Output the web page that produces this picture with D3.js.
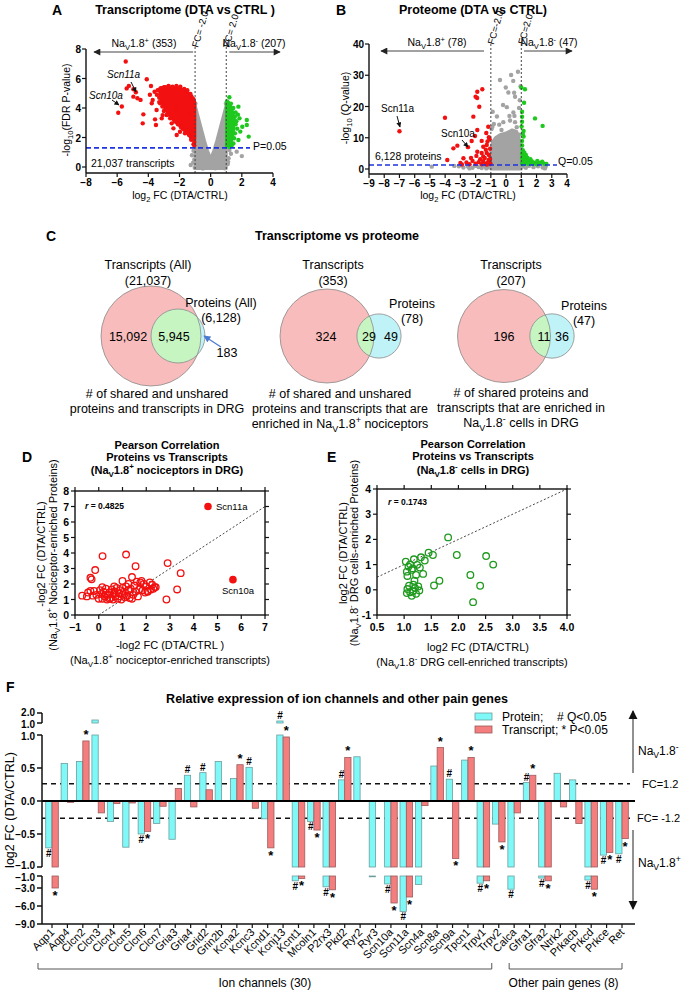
<!DOCTYPE html>
<html><head><meta charset="utf-8">
<script src="https://cdn.jsdelivr.net/npm/d3@7"></script>
<style>body{margin:0;background:#fff}svg{display:block}text{font-family:"Liberation Sans",Arial,sans-serif}</style>
</head><body><svg id="c" width="682" height="992"></svg>
<script>
// ---------------- DATA ----------------
// Panel A (transcriptome volcano): [log2FC, -log10 FDR]
const aGrayCore = [[-1.0,-0.1],[-1.0,4.2],[-0.8,3.4],[-0.6,2.6],[-0.4,1.8],[-0.2,1.1],[0,0.55],[0.2,1.1],[0.4,1.8],[0.6,2.6],[0.8,3.4],[1.0,4.2],[1.0,-0.1]];
const aGray = [[2.0,0.74],[1.67,1.04],[1.3,0.9],[1.15,0.6],[1.2,1.15],[-1.28,0.14],[-1.05,0.5],[-1.1,1.1],[-1.2,0.8],[1.1,0.2],[-1.02,-0.05],[0.9,-0.08],[-0.5,-0.1],[0.3,-0.09],[-0.98,4.3],[0.98,4.3],[-1.12,0.3],[1.12,0.35]];
const aRedCore = [[-1.02,1.9],[-1.02,4.4],[-1.2,4.8],[-1.5,5.1],[-1.9,5.3],[-2.5,5.4],[-3.0,5.45],[-3.3,5.3],[-3.2,4.6],[-2.9,3.9],[-2.5,3.3],[-2.0,2.8],[-1.6,2.4],[-1.3,2.1]];
const aRed = [[-5.45,7.15],[-4.1,5.95],[-5.39,5.33],[-5.25,5.5],[-5.7,4.1],[-5.93,3.68],[-4.96,5.27],[-4.8,5.07],[-4.96,4.77],[-4.7,4.66],[-4.5,4.55],[-4.32,3.57],[-4.36,2.96],[-3.83,5.49],[-3.72,4.54],[-3.57,3.23],[-3.51,2.85],[-3.08,3.52],[-2.18,2.17],[-1.8,2.62],[-1.26,2.01],[-3.78,4.32],[-3.47,3.86],[-3.25,4.32],[-2.93,4.09],[-2.82,3.53],[-3.14,3.3],[-2.5,2.96],[-2.39,2.62],[-1.97,2.39],[-1.65,2.28],[-1.37,2.17],[-1.52,2.5],[-1.86,2.73],[-2.18,3.07],[-1.1,4.6],[-1.3,4.95],[-1.5,5.2],[-1.7,5.3],[-1.95,5.45],[-2.2,5.5],[-2.45,5.45],[-2.7,5.5],[-2.95,5.4],[-3.2,5.35],[-3.4,5.2],[-3.45,4.9],[-3.3,4.7],[-1.05,1.7],[-1.1,1.55],[-1.15,2.0],[-1.25,1.85],[-1.4,2.2],[-1.55,2.35],[-1.7,2.55],[-1.9,2.7],[-2.1,2.9],[-2.3,3.1],[-2.6,3.3],[-2.8,3.55],[-3.0,3.8],[-3.1,4.1],[-3.3,4.4],[-1.05,1.45],[-1.08,2.6],[-1.12,3.3],[-1.07,3.9],[-3.6,5.1],[-3.9,4.9],[-2.7,4.4],[-2.2,4.0],[-1.8,4.6],[-1.4,3.6]];
const aGreenCore = [[1.02,1.4],[1.02,4.3],[1.15,4.4],[1.3,4.1],[1.45,3.6],[1.5,3.0],[1.45,2.3],[1.3,1.6],[1.15,1.4]];
const aGreen = [[1.2,4.73],[1.05,4.45],[1.3,4.3],[1.45,4.0],[1.78,4.09],[1.6,3.7],[1.55,3.4],[1.85,3.3],[1.46,3.24],[2.32,3.19],[2.32,2.85],[2.03,2.73],[2.44,2.06],[1.56,2.28],[1.78,1.83],[1.46,1.6],[1.7,2.6],[1.6,2.9],[1.35,1.45],[1.2,1.35],[1.5,1.95],[1.65,3.1],[1.25,3.8],[1.4,2.7],[1.9,2.4],[1.75,3.55],[1.05,1.5]];
const aXTicks = [-8,-6,-4,-2,0,2,4];
const aYTicks = [0,2,4,6,8];

// Panel B (proteome volcano): [log2FC, -log10 Q]
const bGrayCore = [[-1,0],[-1,6],[-0.9,8.5],[-0.7,10],[-0.4,11],[0,11.5],[0.4,12.5],[0.7,12],[0.9,9],[1,6],[1,0]];
const bGray = [[-0.4,28.5],[0.47,28.2],[0.78,31.1],[0.33,30.1],[-0.02,26.1],[0.59,23.1],[0.53,24.4],[-0.88,18.3],[0.48,18.1],[0.22,17],[0.55,17],[-0.8,14.4],[-0.45,14.2],[0.26,15.5],[0.59,15],[0.7,13.4],[-0.95,12.8],[-0.18,15],[-0.6,16.8],[0.85,19.5],[0.9,22],[-0.2,20.5],[0.05,19.8],[0.95,26.5],[0.15,24.5],[-0.3,12.5],[0.85,11],[-0.9,13.5],
  [-4.88,0.75],[-3.1,0.9],[-2.8,0.5],[-2.5,0.8],[-2.2,0.4],[-2.0,1.0],[-1.8,0.6],[-1.6,0.3],[-1.4,0.9],[-1.2,0.5],[-1.1,1.1],[1.1,0.8],[1.3,0.4],[1.5,1.0],[1.8,0.6],[2.1,0.9],[2.4,0.5],[2.6,0.8],[1.2,1.15],[-1.3,0.2],[-2.4,0.2],[-3.4,1.0],[2.55,0.2]];
const bRed = [[-7,12.1],[-4.01,16.4],[-3.86,2.88],[-3.46,6.61],[-3.2,7.47],[-2.8,3.42],[-3.0,1.9],[-2.5,7.0],[-2.26,8.96],[-2.15,16.75],[-2.0,23.1],[-1.9,22.7],[-1.89,24.7],[-1.56,25.5],[-1.76,19.9],[-1.89,12.5],[-2.04,10.56],[-1.89,5.5],[-1.5,7.1],[-1.27,7.7],[-1.17,13.5],[-1.13,10.2],[-1.27,5.1],[-1.5,4.0],[-1.22,8.8],[-1.33,6.2],[-1.6,5.1],[-1.13,4.5],[-1.05,3.2],[-1.1,2.5],[-1.2,2.0],[-1.35,1.6],[-1.5,2.5],[-1.7,3.1],[-1.8,2.2],[-2.0,1.7],[-2.2,2.6],[-2.4,1.5],[-2.6,2.1],[-1.4,3.5],[-1.05,6.5],[-1.08,9.5],[-1.3,11.5],[-1.6,9],[-1.15,2.9],[-1.02,1.6],[-1.25,1.45],[-1.6,1.5],[-2.9,1.45],[-1.95,4.2],[-2.3,3.5]];
const bGreen = [[1.0,26.1],[1.24,25.5],[1.18,21.2],[1.05,18.3],[1.05,16.7],[1.05,15.1],[1.9,16.2],[2.4,13.8],[1.15,10.4],[1.05,9],[1.05,7.5],[1.1,6],[1.05,5],[1.2,5.2],[1.1,4.2],[1.3,4.5],[1.05,3.5],[1.2,3.3],[1.4,3.6],[1.1,2.5],[1.25,2.7],[1.5,2.9],[1.6,3.1],[1.05,1.8],[1.2,1.9],[1.35,2.1],[1.55,2.2],[1.7,2.4],[1.85,2.0],[2.05,2.6],[2.2,1.9],[2.37,2.3],[2.5,1.7],[2.65,1.6],[1.1,1.5],[1.45,1.6],[1.75,1.6],[2.0,1.5],[1.3,3.9],[1.15,12.2],[1.02,13.6],[1.1,11.2]];
const bXTicks = [-9,-8,-7,-6,-5,-4,-3,-2,-1,0,1,2,3,4];
const bYTicks = [0,10,20,30,40];

// Panel C (Venn counts)
const vennTranscripts = [21037, 353, 207];
const vennProteins = [6128, 78, 47];
const vennOnlyT = [15092, 324, 196];
const vennShared = [5945, 29, 11];
const vennOnlyP = [183, 49, 36];

// Panel D: [-log2FC transcripts, -log2FC proteins]
const dOpen = [[0.16,3.8],[1.15,3.9],[-0.15,2.9],[-0.3,2.3],[-0.35,2.4],[1.55,3.15],[2.9,3.35],[3.45,2.7],[3.3,1.65],[2.85,1.0],[1.4,2.45],[1.0,2.2],[1.75,2.1],[2.15,2.1],[2.35,1.8],[2.06,1.5],[0.15,1.8],[-0.7,1.25],
 [-0.5,1.2],[-0.45,1.45],[-0.35,1.55],[-0.25,1.25],[-0.2,1.55],[-0.1,1.3],[0.0,1.05],[0.05,1.6],[0.1,1.35],[0.15,1.05],[0.2,1.5],[0.25,1.2],[0.3,1.7],[0.35,1.0],[0.4,1.3],[0.45,1.45],[0.5,1.1],[0.55,1.65],[0.6,1.0],[0.62,1.35],[0.66,1.5],[0.7,1.2],[0.75,1.75],[0.8,1.05],[0.85,1.4],[0.9,1.6],[0.95,1.0],[1.0,1.3],[1.05,1.5],[1.1,1.15],[1.15,1.85],[1.2,1.25],[1.25,1.6],[1.3,1.1],[1.35,1.7],[1.45,1.3],[1.5,1.9],[1.55,1.5],[1.6,2.15],[1.65,1.2],[1.7,1.65],[1.8,2.2],[1.85,1.6],[1.9,2.0],[1.95,1.45],[2.0,1.85],[2.05,1.55],[2.2,1.65],[2.25,1.95],[2.3,1.7],[2.4,1.8],[1.0,1.75],[0.45,1.05],[0.3,1.3],[0.85,1.2],[1.4,1.05],[0.65,1.85],[1.25,2.0]];
const dFilled = [[4.6,7.0],[5.65,2.28]];
const dFilledNames = ['Scn11a','Scn10a'];
const dXTicks = [-1,0,1,2,3,4,5,6,7];
const dYTicks = [0,1,2,3,4,5,6,7,8];

// Panel E: [log2FC transcripts, log2FC proteins]
const eOpen = [[1.81,2.08],[1.97,1.38],[2.51,1.34],[2.64,1.0],[2.22,0.59],[2.40,0.16],[2.27,-0.49],[1.65,0.36],[1.55,0.17],[1.45,1.47],[1.53,1.38],[1.31,1.29],[1.38,1.16],[1.35,0.63],[1.29,0.88],[1.18,1.21],[1.03,1.12],[1.11,1.01],[1.08,0.92],[1.14,0.79],[1.05,0.72],[1.06,0.55],[1.22,0.59],[1.16,0.85],[1.24,0.99],[1.06,0.03],[1.11,-0.1],[1.05,-0.13],[1.14,-0.24],[1.2,0.07],[1.17,0.2],[1.26,0.13],[1.28,-0.03],[1.22,-0.16],[1.16,-0.06],[1.09,0.16],[1.19,0.36]];
const eXTicks = [0.5,1.0,1.5,2.0,2.5,3.0,3.5,4.0];
const eYTicks = [-1,0,1,2,3,4];

// Panel F
const genes = ['Aqp1','Aqp4','Clcn2','Clcn3','Clcn4','Clcn5','Clcn6','Clcn7','Gria3','Gria4','Grid2','Grin2b','Kcna2','Kcnc3','Kcnd1','Kcnj13','Kcnt1','Mcoln1','P2rx3','Pkd2','Ryr2','Ryr3','Scn10a','Scn11a','Scn4a','Scn8a','Scn9a','Tpcn1','Trpv1','Trpv2','Calca','Gfra1','Gfra2','Ntrk2','Prkacb','Prkcd','Prkce','Ret'];
const proteinFC = [-0.71,0.57,0.6,1.3,-0.31,-0.7,-0.5,-0.34,-0.58,0.39,0.43,0.6,0.34,0.51,-0.27,1.2,-1.8,-0.31,-2.8,0.32,0.67,-1.05,-2.33,-6.9,-2.4,0.53,0.33,0.62,-2.2,-0.35,-3.2,0.28,-1.35,0.42,0.32,-1.67,-0.82,-0.8];
const transcriptFC = [-3.0,-0.02,0.91,-0.18,-0.04,-0.03,-0.46,-0.08,0.19,-0.09,0.17,0,0.55,-0.11,-0.71,0.97,-1.4,-0.44,-3.3,0.66,0,0,-5.5,-4.5,-0.07,0.81,-0.87,0.66,-1.8,-0.62,-0.18,0.39,-1.8,-0.09,-0.34,-3.2,-0.78,-0.57];
const proteinSig = ['Aqp1','Clcn6','Gria4','Grid2','Kcnc3','Kcnj13','Kcnt1','Mcoln1','P2rx3','Pkd2','Scn10a','Scn11a','Scn9a','Trpv1','Calca','Gfra1','Gfra2','Prkcd','Prkce','Ret'];
const transcriptSig = ['Aqp1','Clcn2','Clcn6','Kcna2','Kcnd1','Kcnj13','Kcnt1','Mcoln1','P2rx3','Pkd2','Scn10a','Scn11a','Scn8a','Scn9a','Tpcn1','Trpv1','Trpv2','Gfra1','Gfra2','Prkcd','Prkce','Ret'];
const fTicksMid = [1.0,0.5,0.0,-0.5,-1.0];
const fTicksLow = [-1.0,-3.0,-6.0,-9.0];
const fTicksTop = [2.0,1.0];
const fcCut = 1.2;
const groupNames = ['Ion channels (30)','Other pain genes (8)'];
const groupSizes = [30, 8];

// ---------------- DRAW ----------------
const svg = d3.select('#c');
const CAL = 'Lato, "Open Sans", sans-serif';
const defs = svg.append('defs');
function marker(id, color, w, h) {
  defs.append('marker').attr('id', id).attr('viewBox', '0 0 10 10').attr('refX', 9).attr('refY', 5)
    .attr('markerWidth', w).attr('markerHeight', h).attr('markerUnits', 'userSpaceOnUse')
    .attr('orient', 'auto-start-reverse').append('path').attr('d', 'M0,0 L10,5 L0,10 z').attr('fill', color);
}
marker('arrDark', '#222', 9, 7);
marker('arrSmall', '#111', 6, 5);
marker('arrBlue', '#4a7bd0', 8, 7);
marker('arrBig', '#111', 9, 11);

function rich(g, x, y, parts, fs, opts) {
  const t = g.append('text').attr('x', x).attr('y', y).attr('font-size', fs);
  if (opts) Object.entries(opts).forEach(([k, v]) => t.attr(k, v));
  let shift = 0;
  parts.forEach(p => {
    const [s, k] = Array.isArray(p) ? p : [p, 'n'];
    const target = k === 'sub' ? 0.28 : k === 'sup' ? -0.42 : 0;
    const ts = t.append('tspan').text(s).attr('dy', ((target - shift) * fs).toFixed(2));
    if (k !== 'n') ts.attr('font-size', fs * 0.72);
    shift = target;
  });
  return t;
}
const NAV = (sign, rest) => ['Na', ['V', 'sub'], '1.8', [sign, 'sup'], rest || ''];

function label(g, x, y, txt, fs, opts) {
  const t = g.append('text').attr('x', x).attr('y', y).attr('font-size', fs).text(txt);
  if (opts) Object.entries(opts).forEach(([k, v]) => t.attr(k, v));
  return t;
}

// ---------- volcano panels ----------
function volcano(o) {
  const g = svg.append('g');
  const x = d3.scaleLinear().domain(o.xd).range(o.xr);
  const y = d3.scaleLinear().domain(o.yd).range(o.yr);
  const line = d3.line().x(d => x(d[0])).y(d => y(d[1]));
  const dot = (pts, col) => g.append('g').selectAll('circle').data(pts).join('circle')
    .attr('cx', d => x(d[0])).attr('cy', d => y(d[1])).attr('r', o.r).attr('fill', col);
  g.append('path').attr('d', line(o.grayCore) + 'Z').attr('fill', '#a3a3a3').attr('stroke', '#a3a3a3').attr('stroke-width', 3).attr('stroke-linejoin', 'round');
  dot(o.gray, '#a3a3a3');
  if (o.redCore) g.append('path').attr('d', line(o.redCore) + 'Z').attr('fill', '#f21010').attr('stroke', '#f21010').attr('stroke-width', 3).attr('stroke-linejoin', 'round');
  if (o.greenCore) g.append('path').attr('d', line(o.greenCore) + 'Z').attr('fill', '#1ec81e').attr('stroke', '#1ec81e').attr('stroke-width', 3).attr('stroke-linejoin', 'round');
  dot(o.red, '#f21010');
  dot(o.green, '#1ec81e');
  [-1, 1].forEach(v => g.append('line').attr('x1', x(v)).attr('x2', x(v)).attr('y1', o.vTop).attr('y2', o.axisY)
    .attr('stroke', '#444').attr('stroke-width', 1).attr('stroke-dasharray', '2,2'));
  g.append('line').attr('x1', o.xr[0]).attr('x2', o.blueEnd).attr('y1', y(1.3)).attr('y2', y(1.3))
    .attr('stroke', '#1f33e0').attr('stroke-width', 1.6).attr('stroke-dasharray', '5,3');
  g.append('line').attr('x1', o.xr[0]).attr('x2', o.xr[0]).attr('y1', o.yr[1]).attr('y2', o.axisY).attr('stroke', '#111').attr('stroke-width', 1.4);
  g.append('line').attr('x1', o.xr[0]).attr('x2', o.xr[1]).attr('y1', o.axisY).attr('y2', o.axisY).attr('stroke', '#111').attr('stroke-width', 1.4);
  o.xt.forEach(v => {
    g.append('line').attr('x1', x(v)).attr('x2', x(v)).attr('y1', o.axisY).attr('y2', o.axisY + 4).attr('stroke', '#111').attr('stroke-width', 1.2);
    label(g, x(v), o.axisY + 13, d3.format('d')(v), 10, { 'text-anchor': 'middle', 'font-weight': 'bold' });
  });
  o.yt.forEach(v => {
    g.append('line').attr('x1', o.xr[0] - 4).attr('x2', o.xr[0]).attr('y1', y(v)).attr('y2', y(v)).attr('stroke', '#111').attr('stroke-width', 1.2);
    label(g, o.xr[0] - 5, y(v) + 4, v, 10, { 'text-anchor': 'end', 'font-weight': 'bold' });
  });
  return { g, x, y };
}

// Panel A
const A = volcano({ xd: [-8, 4], xr: [86, 273], yd: [0, 8], yr: [167, 49], axisY: 173, vTop: 47, blueEnd: 250, r: 2.2,
  grayCore: aGrayCore, gray: aGray, redCore: aRedCore, red: aRed, greenCore: aGreenCore, green: aGreen, xt: aXTicks, yt: aYTicks });
label(svg, 52, 15, 'A', 14, { 'font-weight': 'bold' });
label(svg, 185, 14, 'Transcriptome (DTA vs CTRL )', 12.5, { 'text-anchor': 'middle', 'font-weight': 'bold' });
rich(svg, 180, 199, ['log', ['2', 'sub'], ' FC (DTA/CTRL)'], 10.5, { 'text-anchor': 'middle' });
rich(svg, 0, 0, ['-log', ['10', 'sub'], '(FDR P-value)'], 10.5, { 'text-anchor': 'middle', transform: 'translate(70,110) rotate(-90)' });
label(svg, 0, 0, 'FC= -2.0', 9.5, { transform: `translate(${A.x(-1) + 3},48) rotate(-74)` });
label(svg, 0, 0, 'FC= 2.0', 9.5, { transform: `translate(${A.x(1) + 3},48) rotate(-74)` });
svg.append('line').attr('x1', A.x(-1) - 2).attr('x2', 94).attr('y1', 52).attr('y2', 52).attr('stroke', '#444').attr('marker-end', 'url(#arrDark)');
svg.append('line').attr('x1', A.x(1) + 3).attr('x2', 280).attr('y1', 52).attr('y2', 52).attr('stroke', '#444').attr('marker-end', 'url(#arrDark)');
rich(svg, 144, 47, NAV('+', ' (353)'), 10.5, { 'text-anchor': 'middle' });
rich(svg, 254, 47, NAV('-', ' (207)'), 10.5, { 'text-anchor': 'middle' });
label(svg, 253, 150, 'P=0.05', 10.5);
label(svg, 91, 167, '21,037 transcripts', 10.5);
label(svg, 107, 78, 'Scn11a', 10, { 'font-style': 'italic' });
label(svg, 89, 99, 'Scn10a', 10, { 'font-style': 'italic' });
svg.append('line').attr('x1', 131).attr('y1', 82).attr('x2', 136).attr('y2', 92).attr('stroke', '#111').attr('marker-end', 'url(#arrSmall)');
svg.append('line').attr('x1', 112).attr('y1', 100).attr('x2', 119).attr('y2', 105).attr('stroke', '#111').attr('marker-end', 'url(#arrSmall)');

// Panel B
const B = volcano({ xd: [-9, 4], xr: [369, 567], yd: [0, 40], yr: [169, 44], axisY: 174, vTop: 44, blueEnd: 557, r: 2.2,
  grayCore: bGrayCore, gray: bGray, red: bRed, green: bGreen, xt: bXTicks, yt: bYTicks });
label(svg, 336, 15, 'B', 14, { 'font-weight': 'bold' });
label(svg, 473, 14, 'Proteome (DTA vs CTRL)', 12.5, { 'text-anchor': 'middle', 'font-weight': 'bold' });
rich(svg, 468, 199, ['log', ['2', 'sub'], ' FC (DTA/CTRL)'], 10.5, { 'text-anchor': 'middle' });
rich(svg, 0, 0, ['-log', ['10', 'sub'], ' (Q-value)'], 10.5, { 'text-anchor': 'middle', transform: 'translate(349,108) rotate(-90)' });
label(svg, 0, 0, 'FC=-2.0', 9.5, { transform: `translate(${B.x(-1) + 3},45) rotate(-74)` });
label(svg, 0, 0, 'FC=2.0', 9.5, { transform: `translate(${B.x(1) + 3},45) rotate(-74)` });
svg.append('line').attr('x1', 484).attr('x2', 381).attr('y1', 51).attr('y2', 51).attr('stroke', '#444').attr('marker-end', 'url(#arrDark)');
svg.append('line').attr('x1', 524).attr('x2', 572).attr('y1', 51).attr('y2', 51).attr('stroke', '#444').attr('marker-end', 'url(#arrDark)');
rich(svg, 437, 46, NAV('+', ' (78)'), 10.5, { 'text-anchor': 'middle' });
rich(svg, 549, 46, NAV('-', ' (47)'), 10.5, { 'text-anchor': 'middle' });
label(svg, 558, 165, 'Q=0.05', 10.5);
label(svg, 375, 160, '6,128 proteins', 10.5);
label(svg, 381, 112, 'Scn11a', 10);
label(svg, 441, 137, 'Scn10a', 10);
svg.append('line').attr('x1', 397).attr('y1', 116).attr('x2', 400).attr('y2', 127).attr('stroke', '#111').attr('marker-end', 'url(#arrSmall)');
svg.append('line').attr('x1', 462).attr('y1', 140).attr('x2', 468).attr('y2', 147).attr('stroke', '#111').attr('marker-end', 'url(#arrSmall)');

// ---------- Panel C: Venn ----------
label(svg, 46, 241, 'C', 14, { 'font-weight': 'bold' });
label(svg, 337, 240, 'Transcriptome vs proteome', 12.5, { 'text-anchor': 'middle', 'font-weight': 'bold', 'font-family': CAL });
const vennLayout = [
  { cx: 151, cy: 336, r: 50, pcx: 178, tl: 'Transcripts (All)', pl: 'Proteins (All)', tlx: 148, plx: 221, ply: 307, ox: 128, sx: 174, px: 227, py: 357 },
  { cx: 327, cy: 336, r: 47, pcx: 379, tl: 'Transcripts', pl: 'Proteins', tlx: 333, plx: 412, ply: 308, ox: 326, sx: 369, px: 391, py: 341 },
  { cx: 504, cy: 336, r: 46.5, pcx: 552, tl: 'Transcripts', pl: 'Proteins', tlx: 511, plx: 584, ply: 310, ox: 504, sx: 544, px: 562, py: 341 }
];
const comma = d3.format(',');
vennLayout.forEach((L, i) => {
  const g = svg.append('g').attr('font-family', CAL);
  const pr = L.r * Math.sqrt(vennProteins[i] / vennTranscripts[i]);
  defs.append('clipPath').attr('id', 'vc' + i).append('circle').attr('cx', L.cx).attr('cy', L.cy).attr('r', L.r);
  g.append('circle').attr('cx', L.cx).attr('cy', L.cy).attr('r', L.r).attr('fill', '#f8bcbc');
  g.append('circle').attr('cx', L.pcx).attr('cy', L.cy).attr('r', pr).attr('fill', '#c0f3f8');
  g.append('circle').attr('cx', L.pcx).attr('cy', L.cy).attr('r', pr).attr('fill', '#c6f5c2').attr('clip-path', `url(#vc${i})`);
  g.append('circle').attr('cx', L.cx).attr('cy', L.cy).attr('r', L.r).attr('fill', 'none').attr('stroke', '#8a8a8a').attr('stroke-width', 0.8);
  g.append('circle').attr('cx', L.pcx).attr('cy', L.cy).attr('r', pr).attr('fill', 'none').attr('stroke', '#8a8a8a').attr('stroke-width', 0.8);
  label(g, L.tlx, 269, L.tl, 12.5, { 'text-anchor': 'middle', 'font-family': CAL });
  label(g, L.tlx, 285, '(' + comma(vennTranscripts[i]) + ')', 12.5, { 'text-anchor': 'middle', 'font-family': CAL });
  label(g, L.plx, L.ply, L.pl, 12.5, { 'text-anchor': 'middle', 'font-family': CAL });
  label(g, L.plx, L.ply + 15, '(' + comma(vennProteins[i]) + ')', 12.5, { 'text-anchor': 'middle', 'font-family': CAL });
  label(g, L.ox, 341, comma(vennOnlyT[i]), 12.5, { 'text-anchor': 'middle', 'font-family': CAL });
  label(g, L.sx, 341, comma(vennShared[i]), 12.5, { 'text-anchor': 'middle', 'font-family': CAL });
  label(g, L.px, L.py, comma(vennOnlyP[i]), 12.5, { 'text-anchor': 'middle', 'font-family': CAL });
});
svg.append('line').attr('x1', 221).attr('y1', 347).attr('x2', 204).attr('y2', 336).attr('stroke', '#4a7bd0').attr('stroke-width', 1.3).attr('marker-end', 'url(#arrBlue)');
const capOpt = { 'text-anchor': 'middle', 'font-family': CAL };
label(svg, 157, 398, '# of shared and unshared', 12.5, capOpt);
label(svg, 157, 413, 'proteins and transcripts in DRG', 12.5, capOpt);
label(svg, 340, 398, '# of shared and unshared', 12.5, capOpt);
label(svg, 340, 413, 'proteins and transcripts that are', 12.5, capOpt);
rich(svg, 340, 428, ['enriched in ', ...NAV('+', ' nociceptors')], 12.5, capOpt);
label(svg, 521, 397, '# of shared proteins and', 12.5, capOpt);
label(svg, 521, 412, 'transcripts that are enriched in', 12.5, capOpt);
rich(svg, 521, 427, [...NAV('-', ' cells in DRG')], 12.5, capOpt);

// ---------- Scatter panels D & E ----------
function scatter(o) {
  const g = svg.append('g');
  const x = d3.scaleLinear().domain(o.xd).range(o.xr);
  const y = d3.scaleLinear().domain(o.yd).range(o.yr);
  g.append('line').attr('x1', x(o.diag[0])).attr('y1', y(o.diag[0])).attr('x2', x(o.diag[1])).attr('y2', y(o.diag[1]))
    .attr('stroke', '#333').attr('stroke-width', 0.9).attr('stroke-dasharray', '2,2');
  g.append('rect').attr('x', o.xr[0]).attr('y', o.yr[1]).attr('width', o.xr[1] - o.xr[0]).attr('height', o.yr[0] - o.yr[1])
    .attr('fill', 'none').attr('stroke', '#111').attr('stroke-width', 1.4);
  o.xt.forEach(v => {
    g.append('line').attr('x1', x(v)).attr('x2', x(v)).attr('y1', o.yr[0]).attr('y2', o.yr[0] + 4).attr('stroke', '#111').attr('stroke-width', 1.2);
    g.append('line').attr('x1', x(v)).attr('x2', x(v)).attr('y1', o.yr[1]).attr('y2', o.yr[1] - 4).attr('stroke', '#111').attr('stroke-width', 1.2);
    label(g, x(v), o.yr[0] + 16, o.xf(v), 10.5, { 'text-anchor': 'middle', 'font-weight': 'bold' });
  });
  o.yt.forEach(v => {
    g.append('line').attr('x1', o.xr[0] - 4).attr('x2', o.xr[0]).attr('y1', y(v)).attr('y2', y(v)).attr('stroke', '#111').attr('stroke-width', 1.2);
    g.append('line').attr('x1', o.xr[1]).attr('x2', o.xr[1] + 4).attr('y1', y(v)).attr('y2', y(v)).attr('stroke', '#111').attr('stroke-width', 1.2);
    label(g, o.xr[0] - 6, y(v) + 4, v, 10.5, { 'text-anchor': 'end', 'font-weight': 'bold' });
  });
  g.append('g').selectAll('circle').data(o.open).join('circle').attr('cx', d => x(d[0])).attr('cy', d => y(d[1])).attr('r', 3.3)
    .attr('fill', 'none').attr('stroke', o.col).attr('stroke-width', 1.3);
  if (o.filled) g.append('g').selectAll('circle').data(o.filled).join('circle').attr('cx', d => x(d[0])).attr('cy', d => y(d[1])).attr('r', 3.8).attr('fill', o.col);
  return { g, x, y };
}
const D = scatter({ xd: [-1, 7], xr: [75, 265], yd: [0, 8], yr: [615, 491], diag: [0, 7], xt: dXTicks, yt: dYTicks, xf: d3.format('d'),
  open: dOpen, filled: dFilled, col: '#f21010' });
label(svg, 22, 462, 'D', 14, { 'font-weight': 'bold' });
label(svg, 167, 449, 'Pearson Correlation', 11, { 'text-anchor': 'middle', 'font-weight': 'bold' });
label(svg, 167, 461, 'Proteins vs Transcripts', 11, { 'text-anchor': 'middle', 'font-weight': 'bold' });
rich(svg, 167, 474, ['(', ...NAV('+', ' nociceptors in DRG)')], 11, { 'text-anchor': 'middle', 'font-weight': 'bold' });
const r1 = label(svg, 85, 509, '', 8.5, { 'font-weight': 'bold' });
r1.append('tspan').attr('font-style', 'italic').text('r');
r1.append('tspan').text(' = 0.4825');
label(svg, D.x(dFilled[0][0]) + 8, D.y(dFilled[0][1]) + 3, dFilledNames[0], 9.5);
label(svg, D.x(dFilled[1][0]) - 11, D.y(dFilled[1][1]) + 14, dFilledNames[1], 9.5);
label(svg, 170, 649, '-log2 FC (DTA/CTRL )', 11, { 'text-anchor': 'middle' });
rich(svg, 170, 664, ['(', ...NAV('+', ' nociceptor-enriched transcripts)')], 11, { 'text-anchor': 'middle' });
label(svg, 0, 0, '-log2 FC (DTA/CTRL)', 11, { 'text-anchor': 'middle', transform: 'translate(45,554) rotate(-90)' });
rich(svg, 0, 0, ['(', ...NAV('+', ' Nociceptor-enriched Proteins)')], 11, { 'text-anchor': 'middle', transform: 'translate(57,555) rotate(-90)' });

const E = scatter({ xd: [0.5, 4], xr: [377, 567], yd: [-1, 4], yr: [615, 489], diag: [0.5, 4], xt: eXTicks, yt: eYTicks, xf: d3.format('.1f'),
  open: eOpen, col: '#1f9a1f' });
label(svg, 327, 462, 'E', 14, { 'font-weight': 'bold' });
label(svg, 473, 448, 'Pearson Correlation', 11, { 'text-anchor': 'middle', 'font-weight': 'bold' });
label(svg, 473, 460, 'Proteins vs Transcripts', 11, { 'text-anchor': 'middle', 'font-weight': 'bold' });
rich(svg, 473, 474, ['(', ...NAV('-', ' cells in DRG)')], 11, { 'text-anchor': 'middle', 'font-weight': 'bold' });
const r2 = label(svg, 388, 505, '', 8.5, { 'font-weight': 'bold' });
r2.append('tspan').attr('font-style', 'italic').text('r');
r2.append('tspan').text(' = 0.1743');
label(svg, 478, 651, 'log2 FC (DTA/CTRL)', 11, { 'text-anchor': 'middle' });
rich(svg, 472, 666, ['(', ...NAV('-', ' DRG cell-enriched transcripts)')], 11, { 'text-anchor': 'middle' });
label(svg, 0, 0, 'log2 FC (DTA/CTRL)', 11, { 'text-anchor': 'middle', transform: 'translate(347,553) rotate(-90)' });
rich(svg, 0, 0, ['(', ...NAV('-', ' DRG cells-enriched Proteins)')], 11, { 'text-anchor': 'middle', transform: 'translate(358,553) rotate(-90)' });

// ---------- Panel F ----------
const gF = svg.append('g');
const fx = d3.scalePoint().domain(genes).range([52, 622]);
const yMid = d3.scaleLinear().domain([-1, 1]).range([867, 735]);
const yTop = d3.scaleLinear().domain([1, 2]).range([723, 713]);
const yLow = d3.scaleLinear().domain([-9, -1]).range([924, 876]);
const AXL = 42, XEND = 635, BW = 6.3;
label(svg, 6, 692, 'F', 14, { 'font-weight': 'bold' });
label(svg, 337, 703, 'Relative expression of ion channels and other pain genes', 12.5, { 'text-anchor': 'middle', 'font-weight': 'bold' });
[Math.log2(fcCut), -Math.log2(fcCut)].forEach(v => gF.append('line').attr('x1', AXL).attr('x2', 630).attr('y1', yMid(v)).attr('y2', yMid(v))
  .attr('stroke', '#111').attr('stroke-width', 1.5).attr('stroke-dasharray', '5,4'));
function segs(v) {
  if (v > 1) return [[yMid(1), yMid(0)], [yTop(v), yTop(1)]];
  if (v < -1) return [[yMid(0), yMid(-1)], [yLow(-1), yLow(v)]];
  return [[Math.min(yMid(v), yMid(0)), Math.max(yMid(v), yMid(0))]];
}
const series = [
  { vals: proteinFC, off: -BW, fill: '#7ff8f8', stroke: '#6f9d9d', sig: proteinSig, mark: '#' },
  { vals: transcriptFC, off: 0, fill: '#f47e7e', stroke: '#9c5b5b', sig: transcriptSig, mark: '*' }
];
series.forEach(s => {
  genes.forEach((gname, i) => {
    const v = s.vals[i];
    if (v === 0) return;
    segs(v).forEach(([a, b]) => gF.append('rect').attr('x', fx(gname) + s.off).attr('y', a).attr('width', BW).attr('height', Math.max(b - a, 0.8))
      .attr('fill', s.fill).attr('stroke', s.stroke).attr('stroke-width', 0.8));
    if (s.sig.includes(gname)) {
      const sg = segs(v);
      const yy = v > 0 ? sg[sg.length - 1][0] - 2 : sg[sg.length - 1][1] + (s.mark === '*' ? 12 : 9);
      label(gF, fx(gname) + s.off + BW / 2, yy, s.mark, s.mark === '*' ? 13 : 10, { 'text-anchor': 'middle', 'font-weight': 'bold' });
    }
  });
});
gF.append('line').attr('x1', AXL).attr('x2', XEND).attr('y1', yMid(0)).attr('y2', yMid(0)).attr('stroke', '#000').attr('stroke-width', 1.8);
gF.append('line').attr('x1', AXL).attr('x2', XEND).attr('y1', 924).attr('y2', 924).attr('stroke', '#111').attr('stroke-width', 1.5);
genes.forEach(gname => {
  gF.append('line').attr('x1', fx(gname)).attr('x2', fx(gname)).attr('y1', 924).attr('y2', 928).attr('stroke', '#111').attr('stroke-width', 1.2);
  label(gF, 0, 0, gname, 11, { 'text-anchor': 'end', transform: `translate(${fx(gname) + 3},933) rotate(-45)` });
});
function yseg(scale, ticks, y1, y2, nudge) {
  gF.append('line').attr('x1', AXL).attr('x2', AXL).attr('y1', y1).attr('y2', y2).attr('stroke', '#111').attr('stroke-width', 1.5);
  ticks.forEach(v => {
    gF.append('line').attr('x1', AXL - 5).attr('x2', AXL).attr('y1', scale(v)).attr('y2', scale(v)).attr('stroke', '#111').attr('stroke-width', 1.5);
    label(gF, AXL - 7, scale(v) + 3.5 + (nudge ? nudge(v) : 0), d3.format('.1f')(v), 10, { 'text-anchor': 'end', 'font-weight': 'bold' });
  });
}
yseg(yTop, fTicksTop, 713, 723, v => v === 2 ? -1 : 1);
yseg(yMid, fTicksMid, 735, 867, v => v === -1 ? -1.5 : (v === 1 ? 1 : 0));
yseg(yLow, fTicksLow, 876, 924, v => v === -1 ? 1.5 : 0);
label(gF, 0, 0, 'log2 FC (DTA/CTRL)', 12.5, { 'text-anchor': 'middle', transform: 'translate(14,810) rotate(-90)' });
label(gF, 642, yMid(Math.log2(fcCut)) + 4, 'FC=' + fcCut, 11);
label(gF, 637, yMid(-Math.log2(fcCut)) + 4, 'FC= -' + fcCut, 11);
gF.append('line').attr('x1', 633).attr('x2', 633).attr('y1', 773).attr('y2', 711).attr('stroke', '#222').attr('stroke-width', 1).attr('marker-end', 'url(#arrBig)');
gF.append('line').attr('x1', 633).attr('x2', 633).attr('y1', 830).attr('y2', 909).attr('stroke', '#222').attr('stroke-width', 1).attr('marker-end', 'url(#arrBig)');
rich(gF, 638, 755, NAV('-'), 12);
rich(gF, 638, 867, NAV('+'), 12);
gF.append('rect').attr('x', 475).attr('y', 713).attr('width', 17).attr('height', 7).attr('fill', series[0].fill).attr('stroke', series[0].stroke).attr('stroke-width', 0.8);
gF.append('rect').attr('x', 475).attr('y', 726).attr('width', 17).attr('height', 7).attr('fill', series[1].fill).attr('stroke', series[1].stroke).attr('stroke-width', 0.8);
label(gF, 502, 721, 'Protein;', 12);
label(gF, 557, 721, '# Q<0.05', 12);
label(gF, 502, 734, 'Transcript; * P<0.05', 12);
let start = 0;
groupSizes.forEach((n, k) => {
  const x0 = fx(genes[start]) - 14 + (k === 0 ? 0 : 9), x1 = fx(genes[start + n - 1]) + (k === 0 ? -7 : 0);
  gF.append('path').attr('d', `M${x0},963 V969 H${x1} V963`).attr('fill', 'none').attr('stroke', '#555').attr('stroke-width', 1);
  label(gF, (x0 + x1) / 2 + (k === 0 ? 0 : -2), 987, groupNames[k], 12, { 'text-anchor': 'middle' });
  start += n;
});
</script></body></html>
